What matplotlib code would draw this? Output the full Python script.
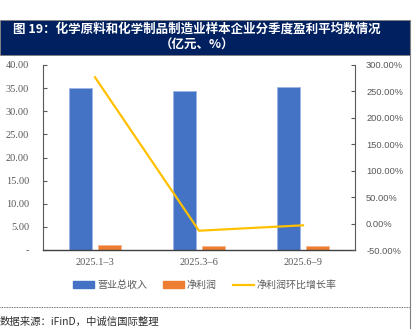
import numpy as np
import matplotlib
matplotlib.use('Agg')
import matplotlib.pyplot as plt
from matplotlib.lines import Line2D
from matplotlib.patches import Patch, Rectangle

plt.rcParams['font.family'] = ['Noto Sans CJK SC', 'DejaVu Sans']

#quarterly averages per company (100m yuan) and q/q growth of net profit (%)
periods = ['2025.1–3', '2025.3–6', '2025.6–9']
revenue = [35.1, 34.45, 35.35]
net_profit = [1.0, 0.865, 0.836]
profit_growth = [276.7, -13.5, -3.3]

left_ticks = [0, 5, 10, 15, 20, 25, 30, 35, 40]
left_labels = ['-', '5.00', '10.00', '15.00', '20.00', '25.00', '30.00', '35.00', '40.00']
right_ticks = [-50, 0, 50, 100, 150, 200, 250, 300]
right_labels = ['-50.00%', '0.00%', '50.00%', '100.00%', '150.00%', '200.00%', '250.00%', '300.00%']

c_blue = '#4472C4'
c_orange = '#ED7D31'
c_gold = '#FFC000'
c_axis = '#595959'

W, H = 417, 329
fig = plt.figure(figsize=(W/100, H/100), dpi=100)

#title band
fig.patches.append(Rectangle((0, 1-55/H), 410/W, 35/H, transform=fig.transFigure,
                             facecolor='#002060', edgecolor='#7f7f7f', lw=0.6, zorder=0))
fig.text(197/W, 1-29/H, '图 19：化学原料和化学制品制造业样本企业分季度盈利平均数情况',
         color='white', fontsize=9, fontweight='bold', ha='center', va='center')
fig.text(197/W, 1-45/H, '（亿元、%）', color='white', fontsize=9, fontweight='bold',
         ha='center', va='center')

#frame on the right and dotted separator
fig.add_artist(Line2D([410/W, 410/W], [0, 1-20/H], transform=fig.transFigure, color='#7f7f7f', lw=0.8))
fig.add_artist(Line2D([0, 410/W], [1-307/H, 1-307/H], transform=fig.transFigure, color='#404040',
                      lw=0.6, ls=(0, (1, 1))))
fig.text(0/W, 1-322/H, '数据来源：iFinD，中诚信国际整理', fontsize=7.5, color='#303030',
         ha='left', va='center', style='italic')

ax = fig.add_axes([43/W, 1-250/H, 312/W, 185/H])
x = np.arange(len(periods))
bw = 0.224
ax.bar(x-0.14, revenue, bw, color=c_blue, edgecolor='#9db5e4', lw=0.5, zorder=2)
ax.bar(x+0.14, net_profit, bw, color=c_orange, edgecolor='#f5b48a', lw=0.5, zorder=2)
ax.set_xlim(-0.5, 2.5)
ax.set_ylim(0, 40)
ax.set_yticks(left_ticks)
ax.set_yticklabels(left_labels, family='Liberation Serif', fontsize=7.5, color=c_axis)
ax.set_xticks(x)
ax.set_xticklabels(periods, family='Liberation Serif', fontsize=7.5, color=c_axis)
ax.tick_params(axis='x', length=0, pad=6)
ax.tick_params(axis='y', direction='in', length=3, color=c_axis, pad=10)
ax.spines['top'].set_visible(False)
ax.spines['right'].set_visible(False)
ax.spines['left'].set_color(c_axis)
ax.spines['left'].set_linewidth(0.8)
ax.spines['bottom'].set_color('#404040')
ax.spines['bottom'].set_linewidth(1.0)
for lab in ax.get_yticklabels():
    lab.set_horizontalalignment('right')

ax2 = ax.twinx()
ax2.plot(x, profit_growth, color=c_gold, lw=1.6, zorder=3)
ax2.set_ylim(-50, 300)
ax2.set_yticks(right_ticks)
ax2.set_yticklabels(right_labels, family='Liberation Sans', fontsize=6.7, color=c_axis)
ax2.tick_params(axis='y', direction='in', length=3, color=c_axis, pad=8)
for s in ['top', 'left', 'bottom']:
    ax2.spines[s].set_visible(False)
ax2.spines['right'].set_color(c_axis)
ax2.spines['right'].set_linewidth(0.8)

handles = [Patch(color=c_blue), Patch(color=c_orange), Line2D([], [], color=c_gold, lw=1.6)]
fig.legend(handles, ['营业总收入', '净利润', '净利润环比增长率'], loc='center',
           bbox_to_anchor=(205/W, 1-285/H), ncol=3, frameon=False, fontsize=7.2,
           handlelength=2.1, handleheight=0.6, handletextpad=0.3, columnspacing=1.6,
           labelcolor=c_axis)

fig.savefig('out.png', dpi=100)
